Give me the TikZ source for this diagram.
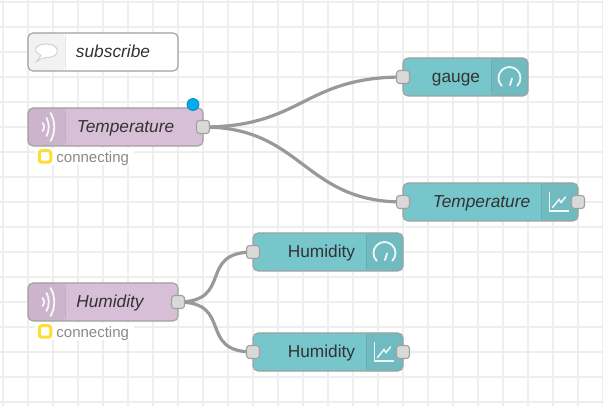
\documentclass[tikz,border=0pt]{standalone}
\usepackage{fontspec}
\setmainfont{Liberation Sans}
\usetikzlibrary{backgrounds}
\definecolor{gridline}{HTML}{EEEEEE}
\definecolor{nodeedge}{HTML}{A0A0A0}
\definecolor{wirecol}{HTML}{999999}
\definecolor{mqttfill}{HTML}{D8BFD8}
\definecolor{dashfill}{HTML}{76C6CB}
\definecolor{portfill}{HTML}{D9D9D9}
\definecolor{labelink}{HTML}{333333}
\tikzset{
  flownode/.style={draw=nodeedge, line width=1.1pt, rounded corners=5pt, minimum height=38pt, inner sep=0pt, outer sep=0pt},
  iconleft/.style={path picture={
    \fill[black, opacity=.05] (path picture bounding box.north west) rectangle +(37pt,-38pt);
    \draw[black, opacity=.08, line width=1pt] ([xshift=37pt]path picture bounding box.north west) -- +(0pt,-38pt);}},
  iconright/.style={path picture={
    \fill[black, opacity=.05] (path picture bounding box.north east) rectangle +(-37pt,-38pt);
    \draw[black, opacity=.08, line width=1pt] ([xshift=-37pt]path picture bounding box.north east) -- +(0pt,-38pt);}},
  portbox/.style={draw=nodeedge, fill=portfill, line width=1.1pt, rounded corners=3pt, minimum size=13pt, inner sep=0pt, outer sep=0pt},
  nodelabel/.style={font=\fontsize{17.3}{17.3}\selectfont, text=labelink, inner sep=0pt, text height=13pt, text depth=2pt},
  statustext/.style={font=\fontsize{15}{15}\selectfont, text=wirecol!90!black, fill=white, inner ysep=2pt, inner xsep=5pt, text width=89pt, align=right, text height=12pt, text depth=1pt},
  statusdot/.style={draw={rgb,255:red,255;green,221;blue,51}, fill=white, line width=3pt, rounded corners=2.5pt, minimum size=11.5pt, inner sep=0pt},
  wire/.style={draw=wirecol, line width=3.2pt},
  iconline/.style={draw=white, line width=1.8pt, line cap=round, opacity=.9},
}
\newcommand{\wavesicon}[1]{
  \begin{scope}[shift={#1}]
    \draw[iconline] (-4,-4) .. controls (-2,-2) and (-2,2) .. (-4,4);
    \draw[iconline] (0,-9) .. controls (3,-4) and (3,4) .. (0,9);
    \draw[iconline] (4,-14) .. controls (9,-6) and (9,6) .. (4,14);
  \end{scope}}
\newcommand{\gaugeicon}[1]{
  \begin{scope}[shift={#1}]
    \draw[iconline] (-7.8,7.8) arc[start angle=225, end angle=-45, x radius=11, y radius=-11];
    \draw[iconline] (0.5,7) -- (2.5,0.5);
  \end{scope}}
\newcommand{\charticon}[1]{
  \begin{scope}[shift={#1}]
    \draw[iconline, line width=1.5pt, line cap=butt] (-10,-9.5) -- (-10,9) -- (9,9);
    \draw[iconline, line width=1.5pt] (-7,5.5) -- (-0.5,-2.5) -- (1.5,0.5) -- (6,-5);
  \end{scope}}
\begin{document}
\begin{tikzpicture}[x=1pt, y=-1pt]
  \useasboundingbox (0,0) rectangle (603,406);

  % the two flows
  \node[flownode, fill=white, minimum width=150pt, iconleft] (commentNode) at (103,52) {};
  \node[flownode, fill=mqttfill, minimum width=175pt, iconleft] (tempIn) at (115.5,127) {};
  \node[flownode, fill=mqttfill, minimum width=150pt, iconleft] (humIn) at (103,302) {};
  \node[flownode, fill=dashfill, minimum width=125pt, iconright] (tempGauge) at (465.5,77) {};
  \node[flownode, fill=dashfill, minimum width=175pt, iconright] (tempChart) at (490.5,202) {};
  \node[flownode, fill=dashfill, minimum width=150pt, iconright] (humGauge) at (328,252) {};
  \node[flownode, fill=dashfill, minimum width=150pt, iconright] (humChart) at (328,352) {};

  \foreach \name/\x/\y in {
    tempOut/203/127,
    humOut/178/302,
    gaugeIn/403/77,
    chartIn/403/202,
    chartOut/578/202,
    humGaugeIn/253/252,
    humChartIn/253/352,
    humChartOut/403/352} {
    \node[portbox] (\name) at (\x,\y) {};
  }

  \begin{pgfonlayer}{background}
    \foreach \x in {3,28,...,603}
      \draw[gridline, line width=2pt] (\x,0) -- (\x,406);
    \foreach \y in {2,27,...,402}
      \draw[gridline, line width=2pt] (0,\y) -- (603,\y);
    \draw[wire] (tempOut.center) .. controls +(100,0) and +(-100,0) .. (gaugeIn.center);
    \draw[wire] (tempOut.center) .. controls +(100,0) and +(-100,0) .. (chartIn.center);
    \draw[wire] (humOut.center) .. controls +(56,0) and +(-56,0) .. (humGaugeIn.center);
    \draw[wire] (humOut.center) .. controls +(56,0) and +(-56,0) .. (humChartIn.center);
  \end{pgfonlayer}

  \node[nodelabel] (commentText) at (113,52) {\itshape subscribe};
  \node[nodelabel] (tempInText) at (125.5,127) {\itshape Temperature};
  \node[nodelabel] (humInText) at (110,302) {\itshape Humidity};
  \node[nodelabel] (gaugeText) at (456,77) {gauge};
  \node[nodelabel] (chartText) at (481.5,202) {\itshape Temperature};
  \node[nodelabel] (humGaugeText) at (321.5,252) {Humidity};
  \node[nodelabel] (humChartText) at (321.5,352) {Humidity};

  \draw[draw=black!18, fill=white, line width=1pt] (36.5,61.5) -- (41,55.5)
    .. controls (30,49) and (38,44) .. (46.7,44)
    .. controls (60,44) and (62,57.5) .. (46.7,57.5)
    .. controls (44,57.5) and (42,58) .. (36.5,61.5) -- cycle;
  \wavesicon{(46.5,127)}
  \wavesicon{(46.5,302)}
  \gaugeicon{(509.5,78)}
  \gaugeicon{(384.5,253)}
  \charticon{(559.5,202)}
  \charticon{(384.5,352)}

  \node[statustext] (tempStatus) at (84.5,157) {connecting};
  \node[statustext] (humStatus) at (84.5,332) {connecting};
  \node[statusdot] (tempDot) at (45,156.5) {};
  \node[statusdot] (humDot) at (45,331.5) {};
  \node[circle, draw={rgb,255:red,20;green,130;blue,180}, fill={rgb,255:red,0;green,174;blue,239}, line width=.8pt, minimum size=12pt, inner sep=0pt] (changedDot) at (193,104.5) {};
\end{tikzpicture}
\end{document}
